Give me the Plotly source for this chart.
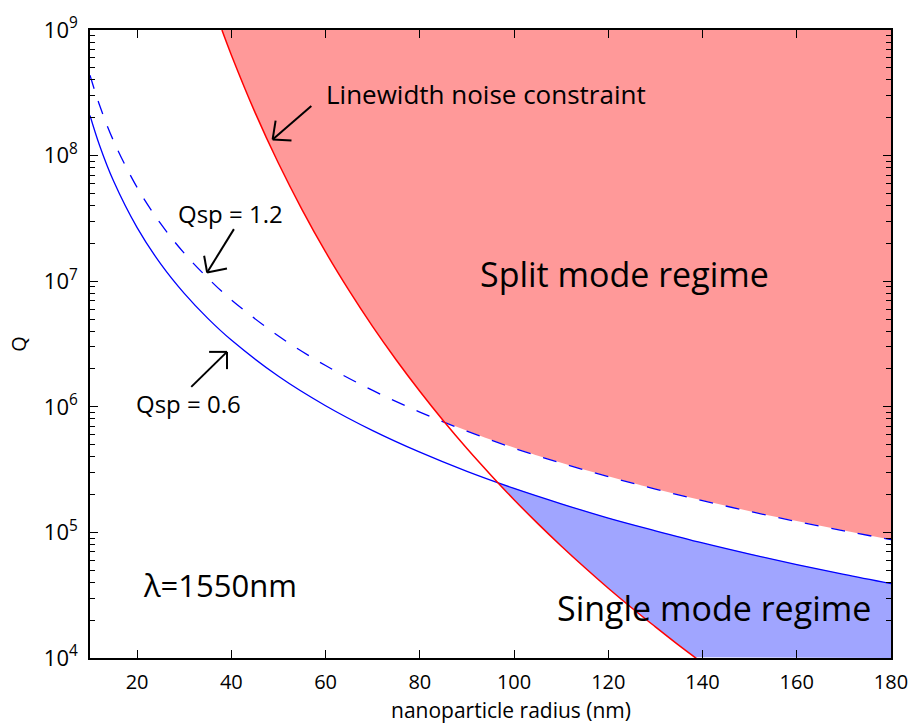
import numpy as np
import plotly.graph_objects as go

# ---------------- data ----------------
r_blue = [10, 12, 15, 20, 25, 30, 35, 40, 50, 60, 70, 80, 90, 100, 110, 120, 130,
          140, 150, 160, 170, 180]
q_sp06 = [2.09e8, 1.216e8, 6.27e7, 2.67e7, 1.374e7, 8.0e6, 5.06e6, 3.40e6, 1.75e6,
          1.02e6, 6.46e5, 4.35e5, 3.06e5, 2.24e5, 1.69e5, 1.30e5, 1.03e5, 8.24e4,
          6.71e4, 5.55e4, 4.63e4, 3.91e4]
q_sp12 = [4.37e8, 2.54e8, 1.31e8, 5.57e7, 2.87e7, 1.67e7, 1.06e7, 7.11e6, 3.66e6,
          2.13e6, 1.35e6, 9.08e5, 6.40e5, 4.68e5, 3.56e5, 2.78e5, 2.21e5, 1.79e5,
          1.47e5, 1.22e5, 1.03e5, 8.75e4]
r_red = [38, 40, 45, 50, 55, 60, 65, 70, 75, 80, 85, 90, 95, 100, 105, 110, 115,
         120, 125, 130, 135, 140]
q_red = [1e9, 6.33e8, 2.22e8, 8.69e7, 3.72e7, 1.71e7, 8.41e6, 4.35e6, 2.36e6,
         1.33e6, 7.74e5, 4.65e5, 2.88e5, 1.82e5, 1.18e5, 7.80e4, 5.25e4, 3.59e4,
         2.50e4, 1.77e4, 1.26e4, 9.12e3]

x_ticks = [20, 40, 60, 80, 100, 120, 140, 160, 180]
y_ticks = [1e4, 1e5, 1e6, 1e7, 1e8, 1e9]
y_ticktext = ["10<sup>4</sup>", "10<sup>5</sup>", "10<sup>6</sup>",
              "10<sup>7</sup>", "10<sup>8</sup>", "10<sup>9</sup>"]
y_minor = [k * d for d in y_ticks[:-1] for k in range(2, 10)]
x_range = [10, 180]
y_range_log = [4, 9]

RED_LINE = "#FF0000"
BLUE_LINE = "#0000FF"
RED_FILL = "rgb(255,153,153)"
BLUE_FILL = "rgb(160,165,255)"
FONT = "Open Sans"

# ---------------- layout geometry ----------------
W, H = 920, 727
L, R, T, B = 90, 23, 21, 69
PW, PH = W - L - R, H - T - B


def px(x):
    return (x - L) / PW


def py(y):
    return 1 - (y - T) / PH


# ---------------- fill regions from the curves ----------------
grid = np.linspace(x_range[0], x_range[1], 1361)
l_red = np.interp(grid, r_red, np.log10(q_red), left=12.0, right=0.0)
l_06 = np.interp(grid, r_blue, np.log10(q_sp06))
l_12 = np.interp(grid, r_blue, np.log10(q_sp12))

# split mode region: above both red and dashed curves
m_split = grid >= r_red[0]
low_split = np.minimum(np.maximum(l_red, l_12), y_range_log[1])[m_split]
xs_split = list(grid[m_split]) + [x_range[1], r_red[0]]
ys_split = list(10 ** low_split) + [10 ** y_range_log[1], 10 ** y_range_log[1]]

# single mode region: below solid curve and right of red curve
m_single = (l_red < l_06) & (grid > 50)
up_single = l_06[m_single]
low_single = np.maximum(l_red, y_range_log[0])[m_single]
gx = grid[m_single]
xs_single = list(gx) + list(gx[::-1])
ys_single = list(10 ** up_single) + list(10 ** low_single[::-1])

fig = go.Figure()
fig.add_trace(go.Scatter(x=xs_split, y=ys_split, fill="toself", fillcolor=RED_FILL,
                         mode="lines", line=dict(width=0), hoverinfo="skip",
                         showlegend=False))
fig.add_trace(go.Scatter(x=xs_single, y=ys_single, fill="toself", fillcolor=BLUE_FILL,
                         mode="lines", line=dict(width=0), hoverinfo="skip",
                         showlegend=False))
fig.add_trace(go.Scatter(x=r_blue, y=q_sp06, mode="lines", line_shape="spline",
                         line=dict(color=BLUE_LINE, width=1.3), showlegend=False))
fig.add_trace(go.Scatter(x=r_blue, y=q_sp12, mode="lines", line_shape="spline",
                         line=dict(color=BLUE_LINE, width=1.3, dash="14px,13px"),
                         showlegend=False))
fig.add_trace(go.Scatter(x=r_red, y=q_red, mode="lines", line_shape="spline",
                         line=dict(color=RED_LINE, width=1.5), showlegend=False))

# ---------------- text annotations ----------------
texts = [
    ("Linewidth noise constraint", 489, 86, 26),
    ("Split mode regime", 629, 269, 34),
    ("Single mode regime", 719, 607, 34),
    ("Qsp = 1.2", 232, 207, 24),
    ("Qsp = 0.6", 189, 400, 24),
    ("λ=1550nm", 221, 584, 31),
    ("nanoparticle radius (nm)", 514, 711, 21),
]
annotations = []
for txt, x, y, s in texts:
    annotations.append(dict(text=txt, x=px(x), y=py(y), xref="paper", yref="paper",
                            xanchor="center", yanchor="middle", showarrow=False,
                            font=dict(family=FONT, size=s, color="black")))

# ---------------- arrows (open V heads) ----------------
arrows = [
    ((313, 98), (274, 132), [(293, 133), (277, 113)]),
    ((235, 223), (208, 267), [(228, 263), (205, 250)]),
    ((192, 383), (228, 347.5), [(210, 347.5), (228, 365)]),
]
shapes = []
for tail, head, arms in arrows:
    segs = [(tail, head)] + [(head, a) for a in arms]
    for (x0, y0), (x1, y1) in segs:
        shapes.append(dict(type="line", xref="paper", yref="paper",
                           x0=px(x0), y0=py(y0), x1=px(x1), y1=py(y1),
                           line=dict(color="black", width=2)))

fig.update_layout(
    width=W, height=H,
    margin=dict(l=L, r=R, t=T, b=B, pad=0),
    paper_bgcolor="white", plot_bgcolor="white",
    font=dict(family=FONT, color="black"),
    annotations=annotations, shapes=shapes,
    showlegend=False,
)
fig.update_xaxes(
    range=x_range, tickvals=x_ticks, ticks="inside", ticklen=8, tickwidth=1,
    tickcolor="black", showline=True, linecolor="black", linewidth=1.5,
    mirror="ticks", showgrid=False, zeroline=False,
    tickfont=dict(family=FONT, size=20), ticklabelstandoff=5,
    layer="above traces",
)
fig.update_yaxes(
    type="log", range=y_range_log, tickvals=y_ticks, ticktext=y_ticktext,
    ticks="inside", ticklen=8, tickwidth=1, tickcolor="black",
    showline=True, linecolor="black", linewidth=1.5, mirror="ticks",
    showgrid=False, zeroline=False,
    minor=dict(ticks="inside", ticklen=5, tickwidth=1, tickcolor="black",
               tickmode="array", tickvals=y_minor, showgrid=False),
    tickfont=dict(family=FONT, size=22), ticklabelstandoff=6,
    title=dict(text="Q", font=dict(family=FONT, size=20), standoff=12),
    layer="above traces",
)

fig.write_html("out.html")
